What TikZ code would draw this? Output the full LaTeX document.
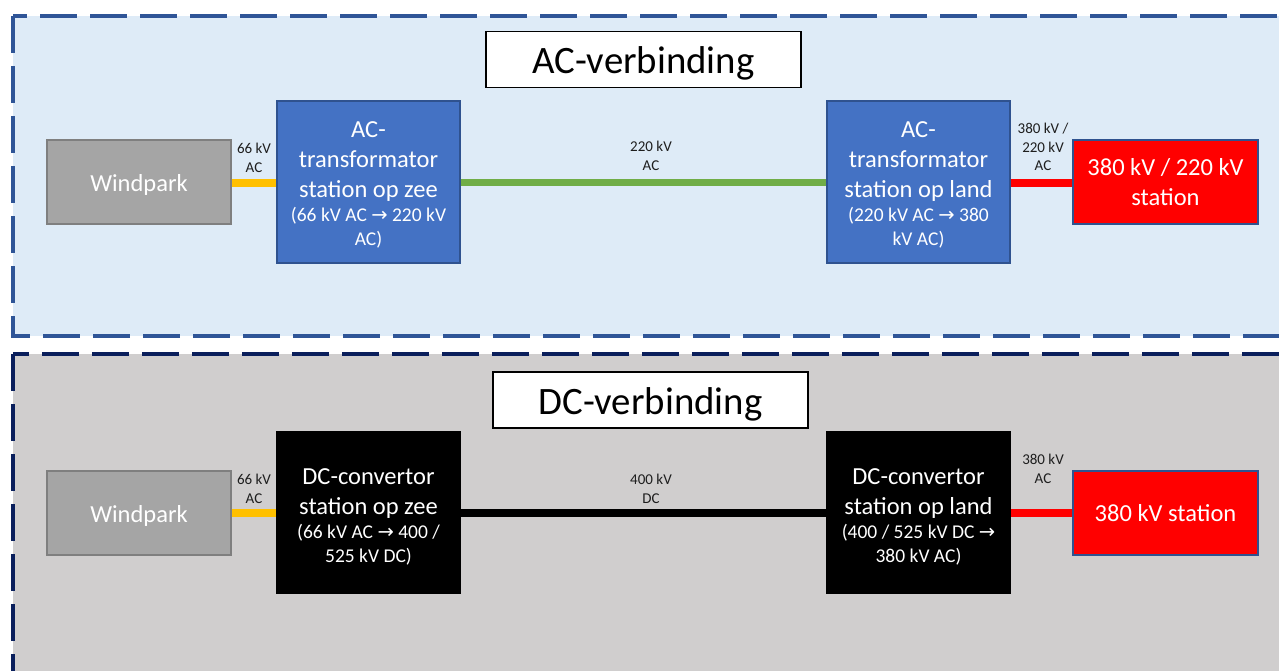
\documentclass[tikz,border=0pt]{standalone}
\usepackage{fontspec}
\setmainfont{Carlito}
\newfontfamily\arrfont{DejaVu Sans}
\definecolor{panelA}{HTML}{DEEBF7}
\definecolor{panelAline}{HTML}{2F5597}
\definecolor{panelB}{HTML}{D0CECE}
\definecolor{panelBline}{HTML}{0A1F5C}
\definecolor{wpfill}{HTML}{A5A5A5}
\definecolor{wpline}{HTML}{7F7F7F}
\definecolor{bluebox}{HTML}{4472C4}
\definecolor{blueline}{HTML}{2F528F}
\definecolor{yel}{HTML}{FFC000}
\definecolor{grn}{HTML}{70AD47}
\definecolor{lbl}{HTML}{1E1E1E}
\newcommand{\ar}{{\arrfont →}}
\newcommand{\mainf}{\fontsize{24.5}{30}\selectfont}
\newcommand{\subf}{\fontsize{19.5}{24}\selectfont}
\newcommand{\shiftdown}[2]{\raisebox{-#1}[\height][\depth]{#2}}
\newcommand{\stationtext}[3]{\shiftdown{#1}{\parbox{183pt}{\centering{\mainf #2\par}{\subf #3\par}}}}
\begin{document}
\begin{tikzpicture}[x=1pt,y=-1pt,
  panel/.style={line width=4pt, dash pattern=on 37pt off 13pt},
  titlebox/.style={draw=black, fill=white, line width=1.3pt, minimum width=315pt, minimum height=56pt, inner sep=0pt, font=\fontsize{38.8}{40}\selectfont},
  windbox/.style={draw=wpline, fill=wpfill, line width=1.3pt, minimum width=184pt, minimum height=84pt, inner sep=0pt, text=white, font=\mainf},
  stationbox/.style={line width=1.3pt, minimum width=183pt, minimum height=162pt, inner sep=0pt, text=white},
  bluestation/.style={stationbox, draw=blueline, fill=bluebox},
  blackstation/.style={stationbox, draw=black, fill=black},
  redbox/.style={draw=blueline, fill=red, line width=1.3pt, minimum width=185pt, minimum height=84pt, inner sep=0pt, text=white, align=center, font=\mainf},
  cable/.style={line width=8pt},
  lab/.style={text=lbl, align=center, font=\fontsize{15}{18.5}\selectfont, inner sep=0pt}
]
\useasboundingbox (0,0) rectangle (1279,671);
\clip (0,0) rectangle (1279,671);
% panels
\draw[panel, draw=panelAline, fill=panelA] (13,16) rectangle (1300,336);
\draw[panel, draw=panelBline, fill=panelB] (13,354) rectangle (1300,700);

% AC row
\node[titlebox] (tA) at (643.5,59.5) {\shiftdown{4pt}{AC-verbinding}};
\node[windbox] (wA) at (139,182) {\shiftdown{3pt}{Windpark}};
\node[bluestation] (zA) at (368.5,182) {\stationtext{2.5pt}{AC-\\transformator\\station op zee}{(66 kV AC \ar{} 220 kV\\AC)}};
\node[bluestation] (lA) at (918.5,182) {\stationtext{2.5pt}{AC-\\transformator\\station op land}{(220 kV AC \ar{} 380\\kV AC)}};
\node[redbox] (sA) at (1165.5,182) {380 kV / 220 kV\\ station};
\draw[cable, yel] (wA.east |- 0,183) -- (zA.west |- 0,183);
\draw[cable, grn, line width=7pt] (zA.east |- 0,183) -- (lA.west |- 0,183);
\draw[cable, red] (lA.east |- 0,183) -- (sA.west |- 0,183);
\node[lab] (l1) at (254,158) {66 kV\\AC};
\node[lab] (l2) at (651,156) {220 kV\\AC};
\node[lab] (l3) at (1043,147) {380 kV /\\220 kV\\AC};

% DC row
\node[titlebox] (tB) at (650.5,400) {\shiftdown{4pt}{DC-verbinding}};
\node[windbox] (wB) at (139,513) {\shiftdown{3pt}{Windpark}};
\node[blackstation] (zB) at (368.5,512.5) {\stationtext{4.5pt}{DC-convertor\\station op zee}{(66 kV AC \ar{} 400 /\\525 kV DC)}};
\node[blackstation] (lB) at (918.5,512.5) {\stationtext{4.5pt}{DC-convertor\\station op land}{(400 / 525 kV DC \ar\\380 kV AC)}};
\node[redbox] (sB) at (1165.5,513) {380 kV station};
\draw[cable, yel] (wB.east |- 0,513) -- (zB.west |- 0,513);
\draw[cable, black] (zB.east |- 0,513) -- (lB.west |- 0,513);
\draw[cable, red] (lB.east |- 0,513) -- (sB.west |- 0,513);
\node[lab] (l4) at (254,489) {66 kV\\AC};
\node[lab] (l5) at (651,489) {400 kV\\DC};
\node[lab] (l6) at (1043,469) {380 kV\\AC};
\end{tikzpicture}
\end{document}
